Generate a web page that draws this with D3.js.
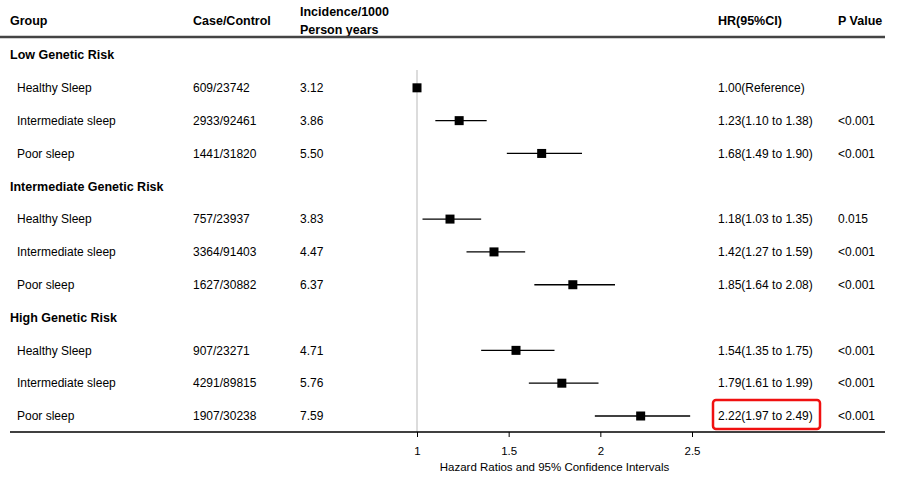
<!DOCTYPE html>
<html>
  <head>
    <meta charset="utf-8">
    <script src="https://d3js.org/d3.v7.min.js"></script>
    <style>
      body { margin: 0; background: #fff; }
      text { font-family: "Liberation Sans", Arial, sans-serif; fill: #000; }
      .hdr { font-weight: bold; font-size: 12.5px; }
      .grp { font-weight: bold; font-size: 12.5px; }
      .cell { font-size: 12px; }
      .tick text { font-size: 11.5px; }
    </style>
  </head>
  <body>
    <svg width="901" height="477"></svg>
    <script>
      // rows, top to bottom (group rows have no numbers)
      const labels = ['Low Genetic Risk', 'Healthy Sleep', 'Intermediate sleep', 'Poor sleep',
                      'Intermediate Genetic Risk', 'Healthy Sleep', 'Intermediate sleep', 'Poor sleep',
                      'High Genetic Risk', 'Healthy Sleep', 'Intermediate sleep', 'Poor sleep'];
      const isGroup = [1, 0, 0, 0, 1, 0, 0, 0, 1, 0, 0, 0];
      const caseControl = ['', '609/23742', '2933/92461', '1441/31820',
                           '', '757/23937', '3364/91403', '1627/30882',
                           '', '907/23271', '4291/89815', '1907/30238'];
      const incidence = ['', '3.12', '3.86', '5.50', '', '3.83', '4.47', '6.37', '', '4.71', '5.76', '7.59'];
      const hr =    [null, 1.00, 1.23, 1.68, null, 1.18, 1.42, 1.85, null, 1.54, 1.79, 2.22];
      const lower = [null, null, 1.10, 1.49, null, 1.03, 1.27, 1.64, null, 1.35, 1.61, 1.97];
      const upper = [null, null, 1.38, 1.90, null, 1.35, 1.59, 2.08, null, 1.75, 1.99, 2.49];
      const hrText = ['', '1.00(Reference)', '1.23(1.10 to 1.38)', '1.68(1.49 to 1.90)',
                      '', '1.18(1.03 to 1.35)', '1.42(1.27 to 1.59)', '1.85(1.64 to 2.08)',
                      '', '1.54(1.35 to 1.75)', '1.79(1.61 to 1.99)', '2.22(1.97 to 2.49)'];
      const pValue = ['', '', '<0.001', '<0.001', '', '0.015', '<0.001', '<0.001', '', '<0.001', '<0.001', '<0.001'];
      const xTicks = [1, 1.5, 2, 2.5];
      const highlightRow = 11;

      const svg = d3.select('svg');
      const x = d3.scaleLinear().domain([1, 2.5]).range([417, 692]);
      const y = d3.scalePoint().domain(d3.range(labels.length)).range([55, 416]);
      const axisY = 432;

      // column headers
      const hdr = [
        {t: 'Group', x: 10, y: 21},
        {t: 'Case/Control', x: 193, y: 21},
        {t: 'Incidence/1000', x: 300, y: 12},
        {t: 'Person years', x: 300, y: 30},
        {t: 'HR(95%CI)', x: 718, y: 21},
        {t: 'P Value', x: 838, y: 21}
      ];
      svg.selectAll('.hdr').data(hdr).enter().append('text')
        .attr('class', 'hdr')
        .attr('x', d => d.x).attr('y', d => d.y)
        .attr('dy', '0.35em')
        .text(d => d.t);

      svg.append('line')
        .attr('x1', 0).attr('x2', 885)
        .attr('y1', 37).attr('y2', 37)
        .attr('stroke', '#444').attr('stroke-width', 2.5);

      // reference line at HR = 1
      svg.append('line')
        .attr('x1', x(1)).attr('x2', x(1))
        .attr('y1', 70).attr('y2', axisY)
        .attr('stroke', '#d0d0d0').attr('stroke-width', 1.5);

      const rows = svg.selectAll('.row').data(labels).enter().append('g')
        .attr('class', 'row')
        .attr('transform', (d, i) => `translate(0,${y(i)})`);

      rows.append('text')
        .attr('class', (d, i) => isGroup[i] ? 'grp' : 'cell')
        .attr('x', (d, i) => isGroup[i] ? 10 : 17)
        .attr('dy', '0.35em')
        .text(d => d);
      rows.append('text').attr('class', 'cell').attr('x', 193).attr('dy', '0.35em')
        .text((d, i) => caseControl[i]);
      rows.append('text').attr('class', 'cell').attr('x', 300).attr('dy', '0.35em')
        .text((d, i) => incidence[i]);
      rows.append('text').attr('class', 'cell').attr('x', 718).attr('dy', '0.35em')
        .text((d, i) => hrText[i]);
      rows.append('text').attr('class', 'cell').attr('x', 838).attr('dy', '0.35em')
        .text((d, i) => pValue[i]);

      // confidence intervals and point estimates
      const est = d3.range(labels.length).filter(i => hr[i] !== null);
      svg.selectAll('.ci').data(est.filter(i => lower[i] !== null)).enter().append('line')
        .attr('class', 'ci')
        .attr('x1', i => x(lower[i])).attr('x2', i => x(upper[i]))
        .attr('y1', i => y(i)).attr('y2', i => y(i))
        .attr('stroke', '#000').attr('stroke-width', 1.3);
      svg.selectAll('.pt').data(est).enter().append('rect')
        .attr('class', 'pt')
        .attr('x', i => x(hr[i]) - 4.5).attr('y', i => y(i) - 4.5)
        .attr('width', 9).attr('height', 9)
        .attr('fill', '#000');

      // highlight box
      svg.append('rect')
        .attr('x', 713).attr('y', y(highlightRow) - 16)
        .attr('width', 107).attr('height', 29)
        .attr('rx', 3)
        .attr('fill', 'none').attr('stroke', '#f01010').attr('stroke-width', 2.5);

      // bottom rule + axis
      svg.append('line')
        .attr('x1', 10).attr('x2', 885)
        .attr('y1', axisY).attr('y2', axisY)
        .attr('stroke', '#000').attr('stroke-width', 1.5);
      const axisG = svg.append('g')
        .attr('transform', `translate(0,${axisY})`)
        .call(d3.axisBottom(x).tickValues(xTicks).tickSize(5).tickPadding(10).tickFormat(d3.format('')));
      axisG.select('.domain').remove();
      axisG.selectAll('.tick line').attr('stroke', '#000');
      axisG.selectAll('.tick text').attr('fill', '#000');

      svg.append('text')
        .attr('x', (x(1) + x(2.5)) / 2).attr('y', 467)
        .attr('dy', '0.35em')
        .attr('text-anchor', 'middle')
        .style('font-size', '11.5px')
        .text('Hazard Ratios and 95% Confidence Intervals');
    </script>
  </body>
</html>
